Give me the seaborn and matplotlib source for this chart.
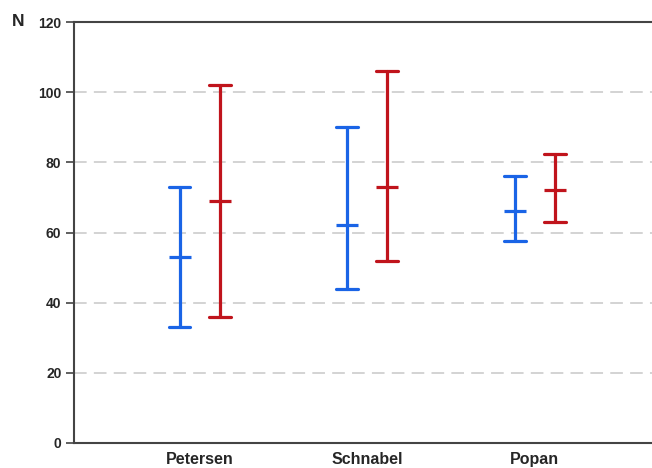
import matplotlib
matplotlib.use("Agg")
import matplotlib.pyplot as plt
import seaborn as sns
import pandas as pd

methods = ["Petersen", "Schnabel", "Popan"]
series = ["A", "B"]
# lower, estimate, upper for each method
lower_a = [33, 44, 57.5]
mid_a = [53, 62, 66]
upper_a = [73, 90, 76]
lower_b = [36, 52, 63]
mid_b = [69, 73, 72]
upper_b = [102, 106, 82.5]
yticks = [0, 20, 40, 60, 80, 100, 120]
colors = ["#1A64E6", "#C0141C"]

rows = []
for i, m in enumerate(methods):
    for s, lo, mi, hi in ((series[0], lower_a, mid_a, upper_a), (series[1], lower_b, mid_b, upper_b)):
        for v in (lo[i], mi[i], hi[i]):
            rows.append({"method": m, "series": s, "N": v})
df = pd.DataFrame(rows)

sns.set_style("white")
plt.rcParams["font.family"] = ["Liberation Sans", "DejaVu Sans"]

fig = plt.figure(figsize=(6.52, 4.68), dpi=100)
ax = fig.add_axes([74 / 652, 25 / 468, 1 - 74 / 652, (443 - 22) / 468])

sns.pointplot(data=df, x="method", y="N", hue="series", order=methods,
              hue_order=series, palette=colors, estimator="median",
              errorbar=("pi", 100), dodge=0.24, capsize=0.13,
              linestyle="none", marker="_", markersize=15.5,
              markeredgewidth=2.3, err_kws={"linewidth": 2.3},
              legend=False, ax=ax, zorder=3)

ax.set_ylim(0, 120)
ax.set_xlim(-0.75, 2.7)
ax.set_yticks(yticks)
ax.set_yticklabels([str(t) for t in yticks], fontweight="bold", fontsize=10)
for y in yticks[1:-1]:
    ax.axhline(y, color="#D0D0D0", lw=1.3, ls=(0, (7, 4)), zorder=1)

ax.set_xlabel("")
ax.set_ylabel("")
for lab in ax.get_xticklabels():
    lab.set_fontweight("bold")
    lab.set_fontsize(11.5)
ax.tick_params(axis="x", length=0, pad=6.5)
ax.tick_params(axis="y", length=6, width=1.2, color="#444444", direction="out", left=True, pad=3)

for side in ("left", "bottom", "top"):
    ax.spines[side].set_visible(True)
    ax.spines[side].set_color("#444444")
    ax.spines[side].set_linewidth(1.5)
ax.spines["right"].set_visible(False)

fig.text(18 / 652, 1 - 22 / 468, "N", fontweight="bold", fontsize=12.5, ha="center", va="center")

fig.savefig("out.png", dpi=100)
